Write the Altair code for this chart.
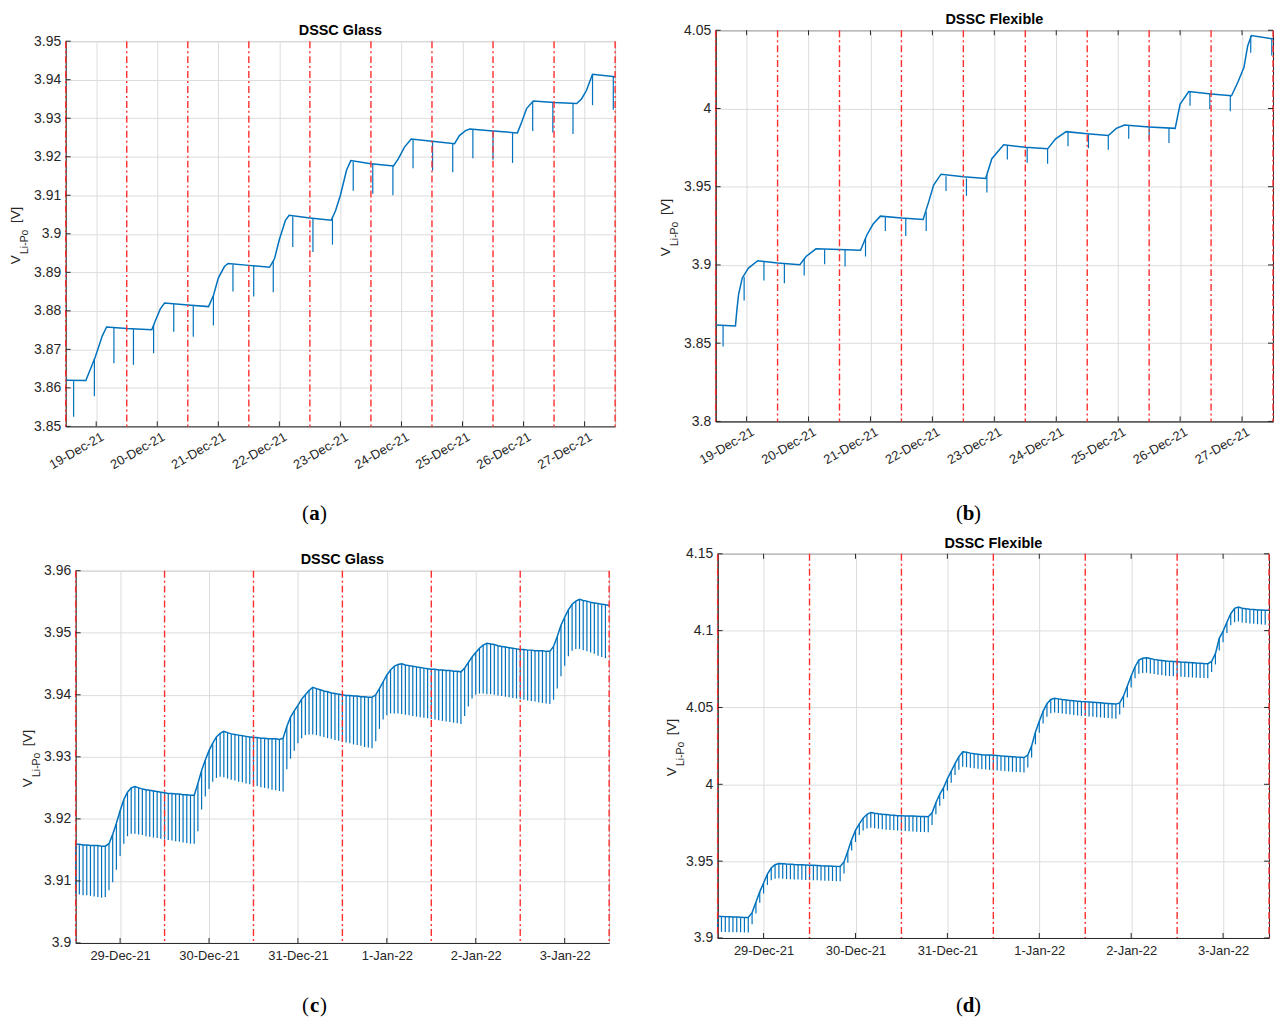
import altair as alt
import pandas as pd

BLUE = "#0072BD"
RED = "#ff2e2e"
INK = "#262626"
GRID = "#dcdcdc"
FONT = "Liberation Sans"
SERIF = "Liberation Serif"

# ---------------------------------------------------------------------------
# Series 1 (18-Dec-21 12:00 .. 27-Dec-21 12:00), time in days after 18-Dec 00:00
# ---------------------------------------------------------------------------
a_line_t = [0.50, 0.83, 0.98, 1.10, 1.17, 1.50, 1.91, 1.97, 2.05, 2.12,
            2.50, 2.84, 2.92, 3.00, 3.10, 3.16, 3.50, 3.84, 3.92, 4.00,
            4.10, 4.16, 4.50, 4.85, 4.92, 5.00, 5.10, 5.17, 5.50, 5.87,
            5.95, 6.05, 6.16, 6.50, 6.87, 6.95, 7.05, 7.12, 7.50, 7.90,
            7.97, 8.05, 8.16, 8.50, 8.87, 8.95, 9.03, 9.13, 9.50]
a_line_v = [3.8620, 3.8619, 3.8678, 3.8735, 3.8758, 3.8754, 3.8751, 3.8775, 3.8805, 3.8820,
            3.8815, 3.8811, 3.8840, 3.8885, 3.8915, 3.8923, 3.8918, 3.8913, 3.8935, 3.8985,
            3.9035, 3.9048, 3.9041, 3.9035, 3.9060, 3.9100, 3.9165, 3.9190, 3.9182, 3.9176,
            3.9195, 3.9225, 3.9246, 3.9240, 3.9234, 3.9255, 3.9268, 3.9272, 3.9267, 3.9262,
            3.9290, 3.9325, 3.9345, 3.9341, 3.9338, 3.9350, 3.9372, 3.9414, 3.9408]
a_drop_t = [0.63, 0.97, 1.29, 1.61, 1.94, 2.27, 2.59, 2.92, 3.24, 3.58,
            3.90, 4.22, 4.55, 4.87, 5.21, 5.53, 5.86, 6.19, 6.51, 6.84,
            7.17, 7.50, 7.82, 8.15, 8.48, 8.81, 9.13, 9.47]
a_drop_top = [3.8620, 3.8674, 3.8757, 3.8753, 3.8763, 3.8818, 3.8815, 3.8840, 3.8920, 3.8917,
              3.8930, 3.9045, 3.9040, 3.9042, 3.9187, 3.9182, 3.9177, 3.9244, 3.9239, 3.9234,
              3.9270, 3.9266, 3.9263, 3.9343, 3.9340, 3.9338, 3.9413, 3.9408]
a_drop_low = [3.8525, 3.8578, 3.8664, 3.8660, 3.8690, 3.8746, 3.8733, 3.8762, 3.8850, 3.8837,
              3.8848, 3.8966, 3.8953, 3.8972, 3.9112, 3.9104, 3.9100, 3.9170, 3.9164, 3.9160,
              3.9196, 3.9192, 3.9184, 3.9267, 3.9263, 3.9259, 3.9334, 3.9322]

b_line_t = [0.50, 0.82, 0.84, 0.87, 0.93, 1.03, 1.18, 1.50, 1.86, 1.96,
            2.12, 2.50, 2.84, 2.94, 3.04, 3.16, 3.50, 3.85, 3.94, 4.02,
            4.14, 4.50, 4.86, 4.96, 5.15, 5.50, 5.86, 5.99, 6.16, 6.50,
            6.84, 6.97, 7.10, 7.50, 7.92, 8.00, 8.14, 8.50, 8.83, 8.93,
            9.03, 9.09, 9.15, 9.50]
b_line_v = [3.8616, 3.8610, 3.8700, 3.8810, 3.8917, 3.8980, 3.9027, 3.9012, 3.9001, 3.9054,
            3.9103, 3.9098, 3.9094, 3.9190, 3.9260, 3.9312, 3.9300, 3.9291, 3.9403, 3.9510,
            3.9580, 3.9563, 3.9552, 3.9679, 3.9768, 3.9752, 3.9742, 3.9806, 3.9852, 3.9838,
            3.9827, 3.9873, 3.9894, 3.9882, 3.9873, 4.0028, 4.0108, 4.0093, 4.0081, 4.0166,
            4.0261, 4.0398, 4.0466, 4.0445]
b_drop_t = [0.62, 0.96, 1.28, 1.61, 1.93, 2.26, 2.59, 2.92, 3.24, 3.57,
            3.90, 4.22, 4.55, 4.88, 5.21, 5.53, 5.86, 6.19, 6.52, 6.84,
            7.17, 7.50, 7.82, 8.16, 8.48, 8.81, 9.14, 9.48]
b_drop_top = [3.8613, 3.8925, 3.9022, 3.9009, 3.9040, 3.9099, 3.9096, 3.9170, 3.9305, 3.9296,
              3.9340, 3.9567, 3.9553, 3.9575, 3.9762, 3.9749, 3.9742, 3.9848, 3.9834, 3.9827,
              3.9892, 3.9880, 3.9875, 4.0105, 4.0092, 4.0082, 4.0463, 4.0446]
b_drop_low = [3.8478, 3.8773, 3.8900, 3.8883, 3.8933, 3.9005, 3.8990, 3.9054, 3.9217, 3.9185,
              3.9217, 3.9473, 3.9442, 3.9463, 3.9674, 3.9653, 3.9647, 3.9759, 3.9746, 3.9736,
              3.9806, 3.9801, 3.9780, 4.0017, 3.9996, 3.9983, 4.0356, 4.0339]

# ---------------------------------------------------------------------------
# Series 2 (28-Dec-21 12:00 .. 3-Jan-22 12:00), hourly samples
# ---------------------------------------------------------------------------
c_v = [3.9159, 3.9159, 3.9158, 3.9158, 3.9157, 3.9157, 3.9157, 3.9156, 3.9156, 3.9160, 3.9175, 3.9193,
       3.9213, 3.9231, 3.9243, 3.9250, 3.9252, 3.9250, 3.9248, 3.9247, 3.9246, 3.9245, 3.9244, 3.9243,
       3.9242, 3.9241, 3.9241, 3.9240, 3.9240, 3.9239, 3.9239, 3.9238, 3.9238, 3.9257, 3.9278, 3.9295,
       3.9310, 3.9322, 3.9332, 3.9338, 3.9341, 3.9339, 3.9337, 3.9336, 3.9335, 3.9334, 3.9333, 3.9332,
       3.9331, 3.9331, 3.9330, 3.9330, 3.9329, 3.9329, 3.9329, 3.9328, 3.9330, 3.9349, 3.9364, 3.9374,
       3.9383, 3.9393, 3.9400, 3.9407, 3.9412, 3.9410, 3.9408, 3.9406, 3.9405, 3.9403, 3.9402, 3.9401,
       3.9400, 3.9399, 3.9399, 3.9398, 3.9398, 3.9397, 3.9397, 3.9396, 3.9396, 3.9400, 3.9410, 3.9421,
       3.9432, 3.9440, 3.9446, 3.9449, 3.9450, 3.9448, 3.9447, 3.9446, 3.9445, 3.9444, 3.9443, 3.9442,
       3.9441, 3.9441, 3.9440, 3.9440, 3.9439, 3.9439, 3.9438, 3.9438, 3.9437, 3.9443, 3.9452, 3.9461,
       3.9468, 3.9475, 3.9480, 3.9483, 3.9482, 3.9481, 3.9479, 3.9478, 3.9477, 3.9476, 3.9475, 3.9474,
       3.9473, 3.9473, 3.9472, 3.9472, 3.9471, 3.9471, 3.9471, 3.9470, 3.9470, 3.9478, 3.9494, 3.9512,
       3.9525, 3.9537, 3.9546, 3.9551, 3.9554, 3.9552, 3.9551, 3.9549, 3.9548, 3.9547, 3.9546, 3.9545,
       3.9544]
c_low = [3.9080, 3.9078, 3.9077, 3.9077, 3.9076, 3.9075, 3.9074, 3.9073, 3.9074, 3.9085, 3.9098, 3.9118,
         3.9140, 3.9160, 3.9172, 3.9176, 3.9176, 3.9175, 3.9174, 3.9172, 3.9171, 3.9170, 3.9169, 3.9168,
         3.9167, 3.9166, 3.9165, 3.9164, 3.9163, 3.9162, 3.9161, 3.9160, 3.9160, 3.9180, 3.9215, 3.9236,
         3.9248, 3.9260, 3.9266, 3.9268, 3.9267, 3.9265, 3.9263, 3.9262, 3.9260, 3.9259, 3.9257, 3.9256,
         3.9254, 3.9253, 3.9251, 3.9250, 3.9249, 3.9247, 3.9246, 3.9245, 3.9244, 3.9280, 3.9297, 3.9310,
         3.9322, 3.9330, 3.9335, 3.9336, 3.9336, 3.9335, 3.9333, 3.9332, 3.9330, 3.9329, 3.9327, 3.9326,
         3.9324, 3.9323, 3.9322, 3.9320, 3.9319, 3.9318, 3.9316, 3.9315, 3.9314, 3.9325, 3.9345, 3.9360,
         3.9367, 3.9370, 3.9370, 3.9370, 3.9369, 3.9368, 3.9367, 3.9366, 3.9365, 3.9364, 3.9363, 3.9362,
         3.9361, 3.9360, 3.9359, 3.9358, 3.9357, 3.9356, 3.9355, 3.9354, 3.9353, 3.9366, 3.9381, 3.9394,
         3.9400, 3.9402, 3.9402, 3.9401, 3.9401, 3.9400, 3.9399, 3.9398, 3.9397, 3.9396, 3.9395, 3.9394,
         3.9393, 3.9392, 3.9391, 3.9390, 3.9389, 3.9388, 3.9387, 3.9386, 3.9385, 3.9392, 3.9410, 3.9430,
         3.9447, 3.9462, 3.9471, 3.9474, 3.9474, 3.9472, 3.9470, 3.9468, 3.9466, 3.9463, 3.9461, 3.9459]

d_v = [3.9141, 3.9140, 3.9139, 3.9138, 3.9137, 3.9136, 3.9135, 3.9134, 3.9134, 3.9165, 3.9232, 3.9300,
       3.9358, 3.9415, 3.9455, 3.9477, 3.9485, 3.9483, 3.9481, 3.9480, 3.9478, 3.9477, 3.9476, 3.9475,
       3.9474, 3.9473, 3.9472, 3.9470, 3.9469, 3.9468, 3.9467, 3.9466, 3.9465, 3.9495, 3.9565, 3.9640,
       3.9700, 3.9743, 3.9780, 3.9805, 3.9817, 3.9812, 3.9808, 3.9805, 3.9803, 3.9800, 3.9798, 3.9796,
       3.9795, 3.9794, 3.9793, 3.9793, 3.9792, 3.9791, 3.9790, 3.9789, 3.9815, 3.9880, 3.9935, 3.9978,
       4.0035, 4.0085, 4.0135, 4.0180, 4.0212, 4.0208, 4.0203, 4.0199, 4.0196, 4.0193, 4.0191, 4.0190,
       4.0189, 4.0187, 4.0185, 4.0183, 4.0181, 4.0179, 4.0177, 4.0176, 4.0174, 4.0190, 4.0250, 4.0340,
       4.0410, 4.0475, 4.0525, 4.0552, 4.0560, 4.0556, 4.0552, 4.0549, 4.0546, 4.0543, 4.0541, 4.0539,
       4.0538, 4.0536, 4.0534, 4.0532, 4.0530, 4.0528, 4.0526, 4.0524, 4.0522, 4.0530, 4.0575, 4.0640,
       4.0705, 4.0765, 4.0808, 4.0820, 4.0824, 4.0818, 4.0813, 4.0809, 4.0806, 4.0803, 4.0800, 4.0799,
       4.0798, 4.0796, 4.0795, 4.0793, 4.0791, 4.0789, 4.0788, 4.0786, 4.0785, 4.0800, 4.0850, 4.0950,
       4.0997, 4.1055, 4.1110, 4.1145, 4.1153, 4.1146, 4.1142, 4.1139, 4.1137, 4.1135, 4.1134, 4.1133,
       4.1132]
d_low = [3.9040, 3.9040, 3.9039, 3.9038, 3.9038, 3.9037, 3.9037, 3.9036, 3.9036, 3.9090, 3.9160, 3.9230,
         3.9290, 3.9345, 3.9375, 3.9385, 3.9388, 3.9386, 3.9384, 3.9383, 3.9381, 3.9380, 3.9379, 3.9378,
         3.9377, 3.9376, 3.9375, 3.9374, 3.9373, 3.9372, 3.9371, 3.9370, 3.9369, 3.9420, 3.9490, 3.9570,
         3.9625, 3.9670, 3.9700, 3.9712, 3.9718, 3.9714, 3.9711, 3.9708, 3.9705, 3.9703, 3.9701, 3.9699,
         3.9697, 3.9696, 3.9694, 3.9693, 3.9691, 3.9690, 3.9689, 3.9688, 3.9735, 3.9805, 3.9860, 3.9905,
         3.9960, 4.0010, 4.0060, 4.0095, 4.0115, 4.0111, 4.0107, 4.0104, 4.0101, 4.0098, 4.0096, 4.0094,
         4.0092, 4.0090, 4.0088, 4.0086, 4.0084, 4.0082, 4.0080, 4.0078, 4.0077, 4.0110, 4.0175, 4.0260,
         4.0335, 4.0395, 4.0440, 4.0462, 4.0468, 4.0464, 4.0460, 4.0457, 4.0454, 4.0451, 4.0448, 4.0446,
         4.0444, 4.0442, 4.0440, 4.0437, 4.0435, 4.0433, 4.0431, 4.0428, 4.0426, 4.0455, 4.0500, 4.0565,
         4.0630, 4.0690, 4.0720, 4.0725, 4.0726, 4.0721, 4.0717, 4.0713, 4.0710, 4.0707, 4.0705, 4.0703,
         4.0702, 4.0700, 4.0699, 4.0697, 4.0695, 4.0694, 4.0692, 4.0691, 4.0690, 4.0730, 4.0780, 4.0870,
         4.0925, 4.0985, 4.1035, 4.1055, 4.1060, 4.1053, 4.1049, 4.1046, 4.1044, 4.1042, 4.1040, 4.1039]

# axis tick values
a_yticks = [3.85, 3.86, 3.87, 3.88, 3.89, 3.90, 3.91, 3.92, 3.93, 3.94, 3.95]
b_yticks = [3.80, 3.85, 3.90, 3.95, 4.00, 4.05]
c_yticks = [3.90, 3.91, 3.92, 3.93, 3.94, 3.95, 3.96]
d_yticks = [3.90, 3.95, 4.00, 4.05, 4.10, 4.15]


def at_days(base, days):
    return pd.Timestamp(base) + pd.to_timedelta(days, unit="D")


def dt(ts):
    return alt.DateTime(year=ts.year, month=ts.month, date=ts.day, hours=ts.hour)


def text_layer(x, y, txt, size, weight="normal", font=FONT, angle=0, color=INK):
    return alt.Chart(pd.DataFrame({"k": [0]})).mark_text(
        text=txt, font=font, fontSize=size, fontWeight=weight, angle=angle,
        align="center", baseline="middle", color=color,
    ).encode(x=alt.value(x), y=alt.value(y))


def panel(line_df, drop_df, start, ndays, yticks, width, height, title, tag,
          angled, boxed, title_y, tag_x, tag_y, ytitle_x, frame, box):
    """box = (left, top, right, bottom) room around the plot area, in px."""
    t0 = pd.Timestamp(start)
    t1 = t0 + pd.Timedelta(days=ndays)
    noons = pd.DataFrame({"time": [t0 + pd.Timedelta(days=i) for i in range(ndays + 1)]})
    midnights = [t0 + pd.Timedelta(hours=12) + pd.Timedelta(days=i) for i in range(ndays)]
    days_df = pd.DataFrame({"time": midnights})
    yt_df = pd.DataFrame({"v": yticks})

    if angled:
        xaxis = alt.Axis(values=[dt(m) for m in midnights], format="%-d-%b-%y",
                         labelAngle=330, labelAlign="right", labelBaseline="middle",
                         labelPadding=9, labelOffset=6, labelOverlap=False, tickCount=20)
    else:
        xaxis = alt.Axis(values=[dt(m) for m in midnights], format="%-d-%b-%y",
                         labelAngle=0, labelAlign="center", labelBaseline="top",
                         labelPadding=7, labelOverlap=False, tickCount=20)
    xenc = alt.X("time:T", scale=alt.Scale(domain=[dt(t0), dt(t1)]), axis=xaxis)
    yenc = alt.Y("v:Q", scale=alt.Scale(domain=[yticks[0], yticks[-1]], nice=False, zero=False),
                 axis=alt.Axis(values=yticks, format=".2~f", labelPadding=5, labelFontSize=14,
                               labelOverlap=False, tickCount=20))

    line = alt.Chart(line_df).mark_line(color=BLUE, strokeWidth=1.5).encode(x=xenc, y=yenc)
    drops = alt.Chart(drop_df).mark_rule(color=BLUE, strokeWidth=1.2).encode(
        x="time:T", y="top:Q", y2="low:Q")
    noon_rules = alt.Chart(noons).mark_rule(color=RED, strokeWidth=1.4, strokeDash=[7, 3, 2, 3]).encode(
        x="time:T", y=alt.value(0), y2=alt.value(height))
    xt = alt.Chart(days_df).mark_rule(color=INK, strokeWidth=1).encode(
        x="time:T", y=alt.value(height), y2=alt.value(height - 5))
    yt = alt.Chart(yt_df).mark_rule(color=INK, strokeWidth=1).encode(
        y="v:Q", x=alt.value(0), x2=alt.value(5))
    layers = [line, drops, noon_rules, xt, yt]
    if boxed:
        layers.append(alt.Chart(days_df).mark_rule(color=INK, strokeWidth=1).encode(
            x="time:T", y=alt.value(0), y2=alt.value(5)))
        layers.append(alt.Chart(yt_df).mark_rule(color=INK, strokeWidth=1).encode(
            y="v:Q", x=alt.value(width - 5), x2=alt.value(width)))

    # panel title
    layers.append(text_layer(width / 2, title_y, title, 14.5, weight="bold", color="#000000"))
    # y-axis title: V with subscript Li-Po, then [V]
    yc = height / 2
    layers.append(text_layer(ytitle_x, yc + 26, "V", 13.5, angle=270))
    layers.append(text_layer(ytitle_x + 9, yc + 8, "Li-Po", 10.5, angle=270))
    layers.append(text_layer(ytitle_x, yc - 19, "[V]", 13.5, angle=270))
    # sub-figure tag
    layers.append(text_layer(tag_x - 9, tag_y, "(", 21, font=SERIF, color="#000000"))
    layers.append(text_layer(tag_x, tag_y, tag, 21, weight="bold", font=SERIF, color="#000000"))
    layers.append(text_layer(tag_x + 9, tag_y, ")", 21, font=SERIF, color="#000000"))
    # invisible diagonal that fixes the cell's extent around the plot area
    left, top, right, bottom = box
    layers.append(alt.Chart(pd.DataFrame({"k": [0]})).mark_rule(strokeOpacity=0, strokeWidth=0).encode(
        x=alt.value(-left), x2=alt.value(width + right),
        y=alt.value(-top), y2=alt.value(height + bottom)))

    return alt.layer(*layers).properties(
        width=width, height=height,
        view=alt.ViewBackground(stroke=frame, strokeWidth=1),
    )


def spacer():
    # 1x1 empty cell used for the leading grid row and column
    return alt.Chart(pd.DataFrame({"k": [0]})).mark_rule(strokeOpacity=0, strokeWidth=0).encode(
        x=alt.value(0), x2=alt.value(1), y=alt.value(0), y2=alt.value(0)
    ).properties(width=1, height=1, view=alt.ViewBackground(stroke=None))


base1 = "2021-12-18"
a_line = pd.DataFrame({"time": at_days(base1, a_line_t), "v": a_line_v})
a_drop = pd.DataFrame({"time": at_days(base1, a_drop_t), "top": a_drop_top, "low": a_drop_low})
b_line = pd.DataFrame({"time": at_days(base1, b_line_t), "v": b_line_v})
b_drop = pd.DataFrame({"time": at_days(base1, b_drop_t), "top": b_drop_top, "low": b_drop_low})

hours = pd.date_range("2021-12-28 12:00", periods=len(c_v), freq="h")
c_line = pd.DataFrame({"time": hours, "v": c_v})
c_drop = pd.DataFrame({"time": hours[:len(c_low)], "top": c_v[:len(c_low)], "low": c_low})
d_line = pd.DataFrame({"time": hours, "v": d_v})
d_drop = pd.DataFrame({"time": hours[:len(d_low)], "top": d_v[:len(d_low)], "low": d_low})

# plot areas: a (65,38) 552x387, b (716,27) 560x393, c (75,568) 536x374, d (718,551) 554x386
pa = panel(a_line, a_drop, "2021-12-18 12:00", 9, a_yticks, 552, 387, "DSSC Glass", "a",
           True, False, -10, 250, 475, -50, "#bdbdbd", (64, 37, 23, 105))
pb = panel(b_line, b_drop, "2021-12-18 12:00", 9, b_yticks, 560, 393, "DSSC Flexible", "b",
           True, True, -10, 254, 486, -50, INK, (76, 26, 0, 110))
pc = panel(c_line, c_drop, "2021-12-28 12:00", 6, c_yticks, 536, 374, "DSSC Glass", "c",
           False, False, -11, 240, 437, -48, "#bdbdbd", (74, 27, 29, 73))
pd_ = panel(d_line, d_drop, "2021-12-28 12:00", 6, d_yticks, 554, 386, "DSSC Flexible", "d",
            False, True, -10, 252, 454, -46, INK, (68, 21, 4, 78))

chart = alt.concat(
    spacer(), spacer(), spacer(),
    spacer(), pa, pb,
    spacer(), pc, pd_,
    columns=3, spacing=0, align="none",
).properties(
    padding=0, background="white"
).configure_axis(
    labelFont=FONT, labelFontSize=13, labelColor=INK, title=None,
    ticks=False, domainColor=INK, domainWidth=1,
    gridColor=GRID, gridWidth=1, labelOverlap=False, labelFlush=False,
).configure_view(stroke=INK)

chart.save("out.html", embed_options={"renderer": "svg", "actions": False})
